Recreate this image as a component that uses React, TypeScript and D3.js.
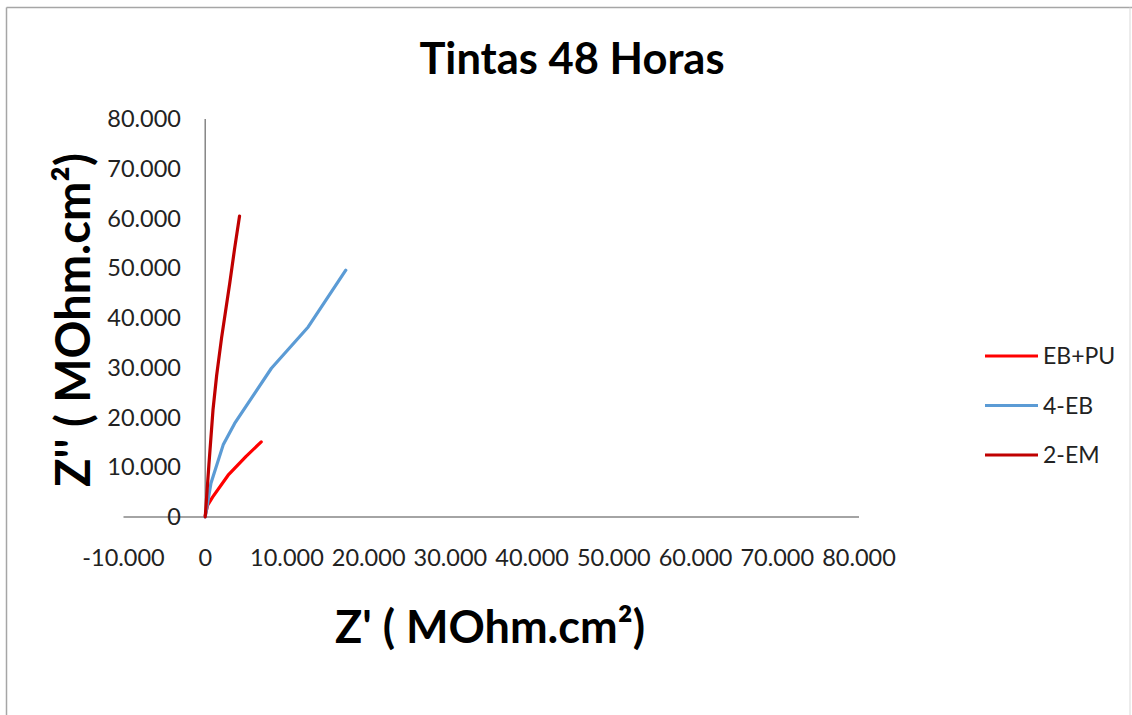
import React from "react";
import * as d3 from "d3";

const W = 1132;
const H = 715;

const seriesNames = ["EB+PU", "4-EB", "2-EM"];
const seriesColors = ["#FF0000", "#5B9BD5", "#C00000"];

const ebpuX = [0, 0.3, 0.9, 2.8, 5.0, 6.85];
const ebpuY = [0.3, 2.4, 4.0, 8.4, 12.2, 15.1];

const eb4X = [0, 0.7, 2.2, 3.6, 8.1, 12.6, 17.2];
const eb4Y = [0, 6.8, 14.5, 18.8, 29.9, 38.2, 49.6];

const em2X = [0, 0.45, 0.95, 1.4, 2.0, 3.0, 3.6, 4.2];
const em2Y = [0, 10.5, 21.5, 28.5, 36.0, 47.0, 54.0, 60.5];

const xTicks = [-10, 0, 10, 20, 30, 40, 50, 60, 70, 80];
const yTicks = [0, 10, 20, 30, 40, 50, 60, 70, 80];

const fmtTick = (v: number) => (v === 0 ? "0" : `${v}.000`);

export default function App() {
  const x = d3.scaleLinear().domain([-10, 80]).range([123.5, 859]);
  const y = d3.scaleLinear().domain([0, 80]).range([517, 119]);

  const data = [
    { name: seriesNames[0], color: seriesColors[0], xs: ebpuX, ys: ebpuY },
    { name: seriesNames[1], color: seriesColors[1], xs: eb4X, ys: eb4Y },
    { name: seriesNames[2], color: seriesColors[2], xs: em2X, ys: em2Y },
  ];

  const line = d3
    .line<[number, number]>()
    .x((d) => x(d[0]))
    .y((d) => y(d[1]));

  const font = "Lato, 'Open Sans', sans-serif";

  return (
    <svg
      width={W}
      height={H}
      style={{ position: "absolute", left: 0, top: 0, background: "#fff" }}
      fontFamily={font}
    >
      <rect x={0} y={0} width={W} height={H} fill="#fff" />
      {/* outer chart border */}
      <line x1={6.5} y1={7.5} x2={W} y2={7.5} stroke="#A6A6A6" strokeWidth={1.5} />
      <line x1={6.5} y1={7.5} x2={6.5} y2={H} stroke="#A6A6A6" strokeWidth={1.5} />
      <line x1={1130} y1={7.5} x2={1130} y2={H} stroke="#D9D9D9" strokeWidth={1} />

      {/* title */}
      <text x={572} y={74} textAnchor="middle" fontSize={43.5} fontWeight={700} fill="#000">
        Tintas 48 Horas
      </text>

      {/* axes */}
      <line x1={x(-10)} x2={x(80)} y1={y(0)} y2={y(0)} stroke="#868686" strokeWidth={1.5} />
      <line x1={x(0)} x2={x(0)} y1={y(0)} y2={y(80)} stroke="#868686" strokeWidth={1.5} />

      {/* y tick labels */}
      {yTicks.map((t) => (
        <text
          key={`y${t}`}
          x={181}
          y={y(t)}
          dy="0.35em"
          textAnchor="end"
          fontSize={23.5}
          fill="#222"
        >
          {fmtTick(t)}
        </text>
      ))}

      {/* x tick labels */}
      {xTicks.map((t) => (
        <text
          key={`x${t}`}
          x={x(t)}
          y={558}
          dy="0.35em"
          textAnchor="middle"
          fontSize={23.5}
          fill="#222"
        >
          {fmtTick(t)}
        </text>
      ))}

      {/* axis titles */}
      <text x={490} y={643} textAnchor="middle" fontSize={45} fontWeight={700} fill="#000">
        Z' ( MOhm.cm²)
      </text>
      <text
        transform={`translate(90,320) rotate(-90)`}
        textAnchor="middle"
        fontSize={47}
        fontWeight={700}
        fill="#000"
      >
        Z'' ( MOhm.cm²)
      </text>

      {/* series */}
      {data.map((s) => (
        <path
          key={s.name}
          d={line(s.xs.map((v, i) => [v, s.ys[i]] as [number, number])) || ""}
          fill="none"
          stroke={s.color}
          strokeWidth={3.2}
          strokeLinejoin="round"
          strokeLinecap="round"
        />
      ))}

      {/* legend */}
      {data.map((s, i) => (
        <g key={`lg${s.name}`} transform={`translate(0, ${356 + i * 49.5})`}>
          <line x1={985} x2={1038} y1={0} y2={0} stroke={s.color} strokeWidth={3.2} />
          <text x={1043} y={0} dy="0.35em" fontSize={23} fill="#222">
            {s.name}
          </text>
        </g>
      ))}
    </svg>
  );
}
